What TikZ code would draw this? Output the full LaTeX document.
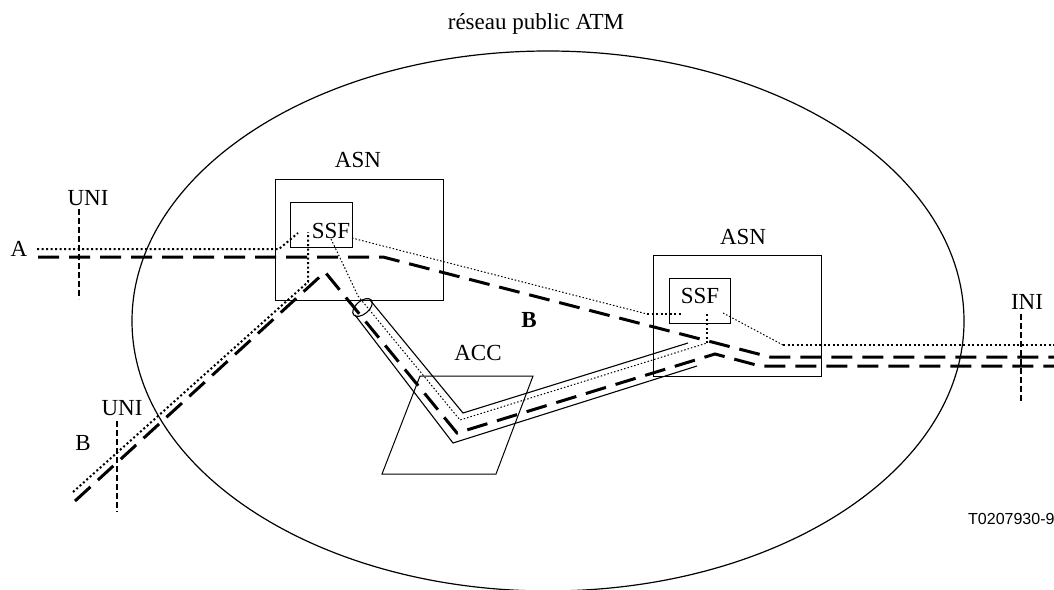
\documentclass[tikz,border=0pt]{standalone}
\usepackage{fontspec}
\setmainfont{Liberation Serif}
\newfontfamily\labelsans{Liberation Sans}
\begin{document}
\begin{tikzpicture}[x=1pt,y=-1pt,
  lbl/.style={inner sep=0pt,font=\fontsize{23}{27}\selectfont},
  boxline/.style={line width=1pt},
  thickdash/.style={line width=3pt,dash pattern=on 21pt off 10pt},
  ifdash/.style={line width=2pt,dash pattern=on 6pt off 3pt},
  thickdot/.style={line width=2pt,dash pattern=on 2pt off 2.5pt},
  thindot/.style={line width=1pt,dash pattern=on 1.5pt off 2pt},
  tubeline/.style={line width=1.1pt}]
\useasboundingbox (0,0) rectangle (1054,589);
\clip (0,0) rectangle (1054,589);
% network ellipse
\draw[line width=1.2pt] (548,321) ellipse [x radius=416, y radius=270];
\node[lbl] (title) at (536,24) {réseau public ATM};
% ASN 1
\draw[boxline] (275,179) rectangle (443,300);
\node[lbl] (asn1) at (358,160) {ASN};
\draw[boxline] (290,202) rectangle (352,247);
\node[lbl] (ssf1) at (331,231) {SSF};
% ASN 2
\draw[boxline] (653,255) rectangle (821,376);
\node[lbl] (asn2) at (743,237) {ASN};
\draw[boxline] (669,278) rectangle (730,323);
\node[lbl] (ssf2) at (700,296) {SSF};
% ACC
\draw[boxline] (420,376) -- (533,376) -- (496,474) -- (382,474) -- cycle;
\node[lbl] (acc) at (478,353) {ACC};
% interfaces
\draw[ifdash] (79,209) -- (79,299);
\node[lbl] (uni1) at (88,198) {UNI};
\draw[ifdash] (117,421) -- (117,512);
\node[lbl] (uni2) at (122,408) {UNI};
\draw[ifdash] (1021,314) -- (1021,403);
\node[lbl] (ini) at (1027,302) {INI};
\node[lbl] (la) at (19,249) {A};
\node[lbl] (lb) at (83,443) {B};
\node[lbl,font=\fontsize{23}{27}\selectfont\bfseries] (lbb) at (529,320) {B};
% tube
\draw[tubeline] (370,300) -- (463,413) -- (688,343);
\draw[tubeline] (355,315) -- (453,443) -- (697,366);
\draw[tubeline,rotate around={40:(362.5,307.5)}] (362.5,307.5) ellipse [x radius=11.5, y radius=6.5];
% dashed connections
\draw[thickdash] (38,257) -- (383,257) -- (770,357) -- (1054,357);
\draw[thickdash] (75,501) -- (325,272) -- (457,433) -- (715,354) -- (760,366) -- (1054,366);
% dotted signalling
\draw[thickdot] (37,249) -- (279,249) -- (298,233);
\draw[thickdot] (73,492) -- (308,282) -- (308,232);
\draw[thindot] (331,239) .. controls (342,262) .. (358,296) -- (460,420) -- (707,343);
\draw[thickdot] (707,343) -- (707,313);
\draw[thindot] (352,238) -- (647,314);
\draw[thickdot] (647,314) -- (682,314);
\draw[thindot] (723,313) -- (783,345);
\draw[thickdot] (783,345) -- (1054,345);
\node[inner sep=0pt,anchor=west,font=\labelsans\fontsize{16}{19}\selectfont] (tag) at (968,519) {T0207930-9};
\end{tikzpicture}
\end{document}
